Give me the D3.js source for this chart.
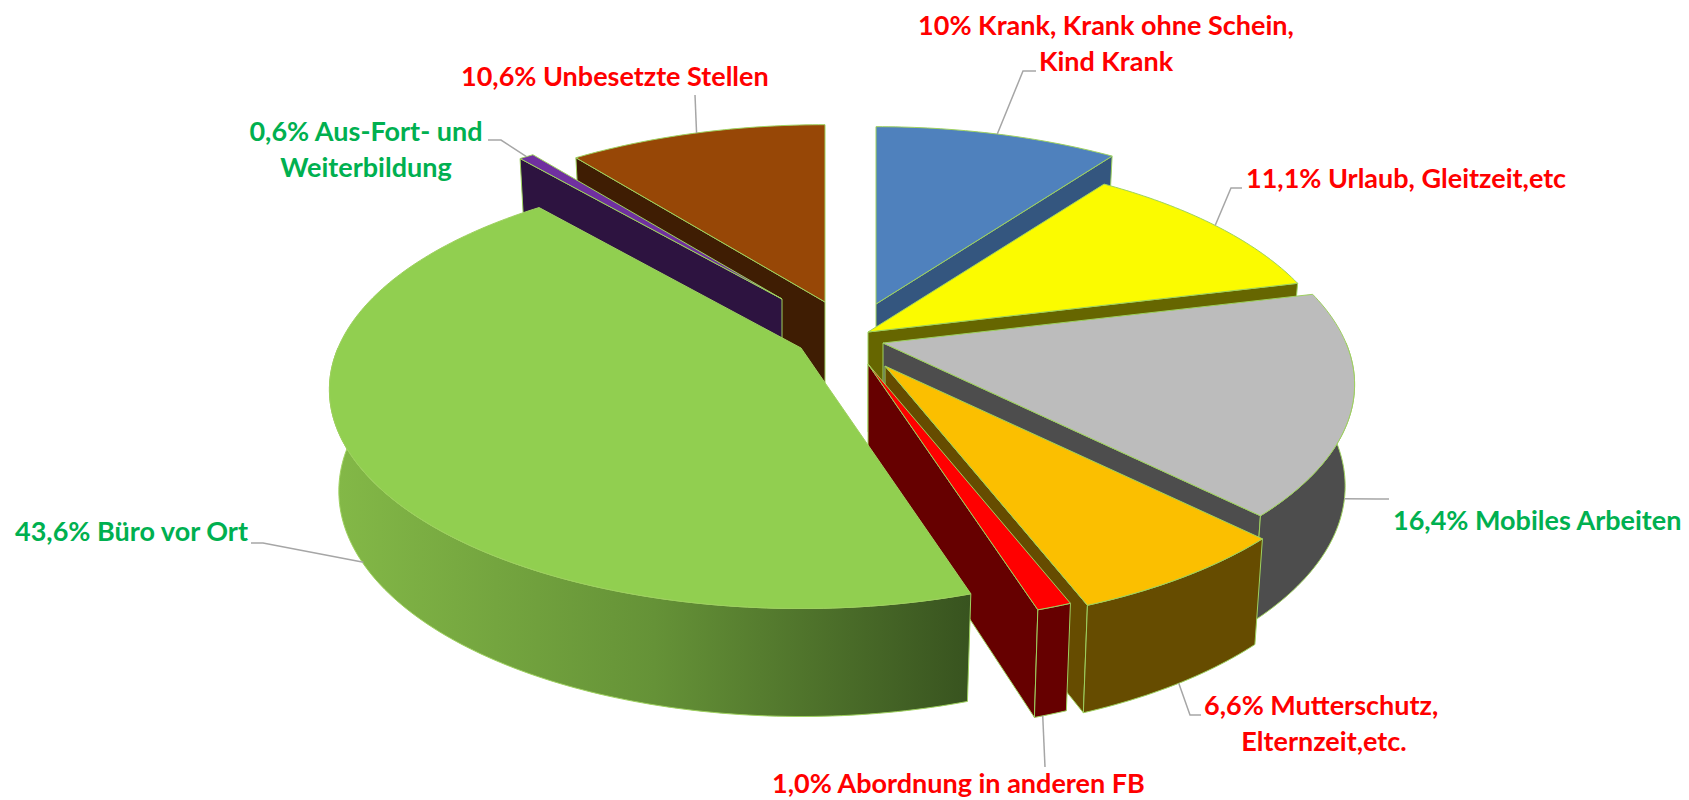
<!DOCTYPE html>
<html>
<head>
<meta charset="utf-8">
<style>
  body { margin: 0; background: #fff; }
  svg { display: block; }
  text { font-family: Lato, "Open Sans", sans-serif; font-weight: 700; }
</style>
</head>
<body>
<div id="chart"></div>
<script src="https://cdn.jsdelivr.net/npm/d3@7"></script>
<script>
const categories = ["Krank", "Urlaub", "Mobiles Arbeiten", "Mutterschutz", "Abordnung", "Büro vor Ort", "Aus-Fort- und Weiterbildung", "Unbesetzte Stellen"]
const shares = [10, 11.1, 16.4, 6.6, 1.0, 43.6, 0.6, 10.6]
const topColours = ["#4f81bd", "#fbfb00", "#bcbcbc", "#fbbf00", "#ff0000", "#91cf50", "#7030a0", "#974706"]
const wallColours = ["#34567f", "#666600", "#4d4d4d", "#664c00", "#660000", "#3a5520", "#2d1340", "#3f1d03"]

const labelLines = [
  ["10% Krank, Krank ohne Schein,", "Kind Krank"],
  ["11,1% Urlaub, Gleitzeit,etc"],
  ["16,4% Mobiles Arbeiten"],
  ["6,6% Mutterschutz,", "Elternzeit,etc."],
  ["1,0% Abordnung in anderen FB"],
  ["43,6% Büro vor Ort"],
  ["0,6% Aus-Fort- und", "Weiterbildung"],
  ["10,6% Unbesetzte Stellen"]
]
const labelColours = ["#ff0000", "#ff0000", "#00b050", "#ff0000", "#ff0000", "#00b050", "#00b050", "#ff0000"]

// layout: every wedge was dragged out by hand
const width = 1689
const height = 800
const cx = 840
const cy = 340
const radiusX = 463
const radiusY = 211
const perspective = 0.19
const depth = 100
const bottomShrink = 0.02
const explodeX = [36, 28, 43, 45, 28, -39, -58, -15]
const explodeY = [-36, -8, 3, 26, 24, 8, -41, -38]
const drawOrder = [7, 6, 0, 1, 2, 3, 4, 5]

const labelX = [1106, 1246, 1393, 1204, 772, 15, 366, 461]
const labelAnchor = ["middle", "start", "start", "start", "start", "start", "middle", "start"]
const labelY = [35, 188, 530, 715, 793, 541, 141, 86]
const secondLineX = [1106, null, null, 1324, null, null, 366, null]
const lineGap = 36
const leaderElbow = [
  [[1023, 71], [1036, 71]],
  [[1231, 188], [1242, 188]],
  [[1377, 499], [1389, 499]],
  [[1190, 715], [1201, 715]],
  [[1045, 767]],
  [[263, 543], [251, 543]],
  [[501, 140], [488, 140]],
  [[695, 95]]
]
const leaderDrop = [0, 0, 0.94, 1, 1, 0.98, 0, 0]
const leaderAngle = [null, null, null, null, 161.6, null, null, null]

const rad = d3.scaleLinear().domain([0, 360]).range([0, 2 * Math.PI])

// a point of one wedge: angle clockwise from the back, r 0..1, drop 0 (top) ..1 (bottom)
function project(i, angle, r, drop) {
  const X = Math.sin(angle) * r
  const Y = -Math.cos(angle) * r
  const scale = 1 / (1 - perspective * Y)
  const shrink = 1 - bottomShrink * drop
  return [
    cx + explodeX[i] + radiusX * X * scale * shrink,
    cy + explodeY[i] + radiusY * Y * scale + depth * (1 + 0.08 * Y) * drop
  ]
}

const slices = d3.pie().sort(null).value(d => d).startAngle(0).endAngle(2 * Math.PI)(shares)

const line = d3.line()

function arcPoints(i, a0, a1, drop) {
  const steps = Math.max(2, Math.ceil(Math.abs(a1 - a0) * 60))
  return d3.range(steps + 1).map(k => project(i, a0 + (a1 - a0) * k / steps, 1, drop))
}

const svg = d3.select("#chart").append("svg")
  .attr("width", width)
  .attr("height", height)

const buero = categories.indexOf("Büro vor Ort")
const grad = svg.append("defs").append("linearGradient")
  .attr("id", "bueroSide")
  .attr("gradientUnits", "userSpaceOnUse")
  .attr("x1", project(buero, rad(270), 1, 0)[0])
  .attr("x2", project(buero, slices[buero].startAngle, 1, 0)[0])
  .attr("y1", 0)
  .attr("y2", 0)
grad.selectAll("stop")
  .data([[0, "#83b847"], [0.5, "#659237"], [1, "#38531f"]])
  .enter().append("stop")
  .attr("offset", d => d[0])
  .attr("stop-color", d => d[1])

const edge = "#9ed15f"

const wedges = svg.selectAll("g.wedge")
  .data(drawOrder)
  .enter().append("g")
  .attr("class", "wedge")
  .attr("stroke", edge)
  .attr("stroke-width", 1)
  .attr("stroke-linejoin", "round")

wedges.each(function (i) {
  const g = d3.select(this)
  const s = slices[i]
  const wall = i === buero ? "url(#bueroSide)" : wallColours[i]
  const apexTop = project(i, 0, 0, 0)
  const apexBottom = project(i, 0, 0, 1)

  // cut walls that face the viewer, then the front part of the rim, then the top
  const cutWall = (a) => g.append("path")
    .attr("fill", wallColours[i])
    .attr("d", line([apexTop, project(i, a, 1, 0), project(i, a, 1, 1), apexBottom]) + "Z")
  if (-Math.cos(s.startAngle - Math.PI / 2) > 0.05) cutWall(s.startAngle)
  if (-Math.cos(s.endAngle + Math.PI / 2) > 0.05) cutWall(s.endAngle)

  const from = Math.max(s.startAngle, rad(90))
  const to = Math.min(s.endAngle, rad(270))
  if (to > from) {
    g.append("path")
      .attr("fill", wall)
      .attr("d", line(arcPoints(i, from, to, 0).concat(arcPoints(i, to, from, 1))) + "Z")
  }
  g.append("path")
    .attr("fill", topColours[i])
    .attr("d", line([apexTop].concat(arcPoints(i, s.startAngle, s.endAngle, 0))) + "Z")
})

// leader lines start on the wedge they belong to
svg.selectAll("path.leader")
  .data(shares)
  .enter().append("path")
  .attr("class", "leader")
  .attr("fill", "none")
  .attr("stroke", "#a6a6a6")
  .attr("stroke-width", 1.5)
  .attr("d", (d, i) => {
    const s = slices[i]
    const a = leaderAngle[i] === null ? (s.startAngle + s.endAngle) / 2 : rad(leaderAngle[i])
    return line([project(i, a, 1, leaderDrop[i])].concat(leaderElbow[i]))
  })

const labels = svg.selectAll("text.label")
  .data(labelLines)
  .enter().append("text")
  .attr("class", "label")
  .attr("font-size", 27)
  .attr("fill", (d, i) => labelColours[i])
  .attr("text-anchor", (d, i) => labelAnchor[i])

labels.each(function (lines, i) {
  d3.select(this).selectAll("tspan")
    .data(lines)
    .enter().append("tspan")
    .attr("x", (d, k) => k === 0 ? labelX[i] : secondLineX[i])
    .attr("y", (d, k) => labelY[i] + k * lineGap)
    .attr("text-anchor", (d, k) => k === 0 ? labelAnchor[i] : "middle")
    .text(d => d)
})
</script>
</body>
</html>
